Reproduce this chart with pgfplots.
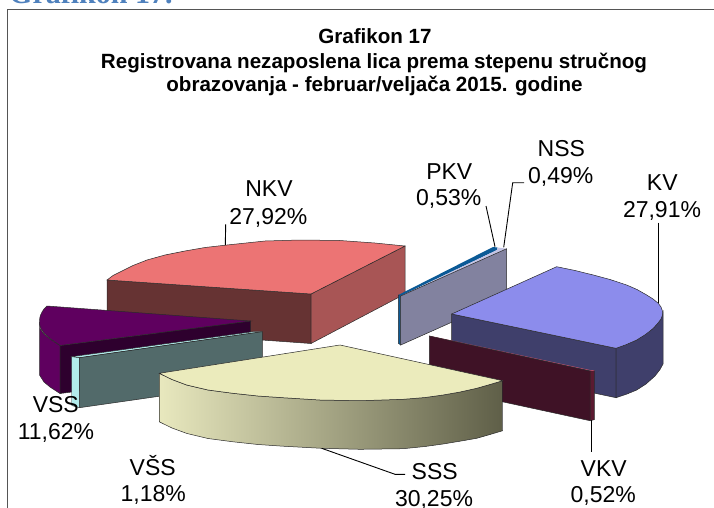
\documentclass[border=0pt]{standalone}
\usepackage{pgfplots}
\pgfplotsset{compat=1.18}
\usepackage{fontspec}
\setmainfont{Liberation Sans}
\newfontfamily\headfont{Liberation Serif}
\definecolor{edge}{HTML}{2A2A2A}
\definecolor{frame}{HTML}{555555}
\definecolor{nkvtop}{HTML}{EC7474}
\definecolor{nkvleft}{HTML}{663333}
\definecolor{nkvright}{HTML}{A85555}
\definecolor{psl}{HTML}{82829F}
\definecolor{pkvb}{HTML}{0B5A96}
\definecolor{nsstop}{HTML}{C4C4E4}
\definecolor{vsstop}{HTML}{5F005F}
\definecolor{vssdark}{HTML}{2E002E}
\definecolor{vsatop}{HTML}{B3ECEC}
\definecolor{vsaface}{HTML}{526A6A}
\definecolor{ssstop}{HTML}{EBEBBC}
\definecolor{sssl}{HTML}{E8E8BE}
\definecolor{sssm}{HTML}{B8B892}
\definecolor{sssr}{HTML}{5F5F48}
\definecolor{kvtop}{HTML}{8C8CEC}
\definecolor{kvdark}{HTML}{3F3F6B}
\definecolor{vkv}{HTML}{3F1226}
\definecolor{vkvtop}{HTML}{C0506A}
\definecolor{vkvside}{HTML}{5A1A30}
\definecolor{heading}{HTML}{4F81BD}
\newcommand{\lab}{\fontsize{23}{23}\selectfont}
\newcommand{\ttl}{\fontsize{20.6}{20.6}\selectfont\bfseries}
\begin{document}
\begin{tikzpicture}
\useasboundingbox (0,0) rectangle (714pt,508pt);
\clip (0,0) rectangle (714pt,508pt);
\begin{axis}[at={(0,0)},anchor=south west,scale only axis,width=714pt,height=508pt,
  xmin=0,xmax=714,ymin=0,ymax=508,y dir=reverse,hide axis,clip=false,no markers]
% frame
\addplot[frame,line width=1pt] coordinates {(7.5,508)(7.5,9.5)(714,9.5)};
% NKV
\addplot[draw=edge,line width=0.5pt,fill=nkvleft] coordinates {(107,280)(311,294)(311,343.5)(107,329)} --cycle;
\addplot[draw=edge,line width=0.5pt,fill=nkvright] coordinates {(311,294)(405,246)(405,294)(311,343.5)} --cycle;
\addplot[draw=edge,line width=0.5pt,fill=nkvtop] coordinates {(107,280)(113,275.5)(120,272)(133,265.5)(147,260)(165,255)(185,251)(205,247.5)(227,245)(265,241)(300,240)(340,240.5)(375,243)(405,246)(311,294)} --cycle;
% PKV / NSS
\addplot[draw=edge,line width=0.4pt,fill=pkvb] coordinates {(398.3,295)(400.7,296)(400.7,345)(398.3,343.3)} --cycle;
\addplot[draw=none,fill=pkvb] coordinates {(398.3,295)(493,247)(497.5,247.5)(497,250)(400.7,296)} --cycle;
\addplot[draw=none,fill=nsstop] coordinates {(400.7,296)(497,250)(497.5,247.5)(506.7,248.7)} --cycle;
\addplot[draw=edge,line width=0.5pt,fill=psl] coordinates {(400.7,296)(506.7,248.7)(506.7,297.7)(400.7,345)} --cycle;
% VSS
\addplot[draw=edge,line width=0.5pt,fill=vsstop] coordinates {(39.5,322)(39.5,328)(44,334)(50,339)(60,345.5)(60,393.5)(50,387)(44,382)(39.5,375)} --cycle;
\addplot[draw=edge,line width=0.5pt,fill=vssdark] coordinates {(60,345.5)(250.7,321)(250.7,369)(60,393.5)} --cycle;
\addplot[draw=edge,line width=0.5pt,fill=vsstop] coordinates {(47,306)(44,309)(42,312)(40.2,316)(39.5,320)(39.5,324)(40.5,328)(44,333)(50,338.5)(60,345.5)(250.7,321)} --cycle;
% VSA teal
\addplot[draw=edge,line width=0.4pt,fill=vsatop] coordinates {(71.7,356.7)(79.5,357.7)(262.3,331.7)(253.3,331.7)} --cycle;
\addplot[draw=edge,line width=0.4pt,fill=vsatop] coordinates {(71.7,356.7)(79.5,357.7)(79.5,407.7)(71.7,405.5)} --cycle;
\addplot[draw=edge,line width=0.5pt,fill=vsaface] coordinates {(79.5,357.7)(262.3,331.7)(262.3,381.5)(79.5,407.7)} --cycle;
% KV
\addplot[draw=edge,line width=0.5pt,fill=kvdark] coordinates {(451.7,314)(616,348.3)(616,397.7)(451.7,363)} --cycle;
\addplot[draw=edge,line width=0.5pt,fill=kvdark] coordinates {(616,348.3)(636.7,340)(653.3,328.3)(661,319)(663,312)(663,364)(660,369.5)(655,376)(646,384)(636.7,390)(626.5,394.2)(616,397.7)} --cycle;
\addplot[draw=edge,line width=0.5pt,fill=kvtop] coordinates {(556.7,266.7)(575,270.5)(593.3,275)(610,279.5)(626.7,285)(637,289.5)(646.7,295)(653,299)(658.3,303.3)(661,307)(662.7,311.7)(662.5,315)(661,319)(658,323)(653.3,328.3)(645.5,334.5)(636.7,340)(626.5,344.5)(616,348.3)(451.7,314)} --cycle;
% VKV
\addplot[draw=edge,line width=0.4pt,fill=vkvside] coordinates {(590,371)(594.3,370.7)(594.3,419.7)(590,420.7)} --cycle;
\addplot[draw=vkvtop,line width=0.6pt] coordinates {(429.3,336)(590,370.3)(594.3,370.7)};
\addplot[draw=edge,line width=0.5pt,fill=vkv] coordinates {(429.3,336)(590,371)(590,420.7)(429.3,386)} --cycle;
% SSS
\addplot[draw=edge,line width=0.5pt,left color=sssl,middle color=sssm,right color=sssr] coordinates {(159.3,373.3)(172,379.5)(186.7,385)(208,390)(233,393.3)(258,396)(283,397.7)(320,400)(360,400.7)(403,399.3)(425,397.5)(443,395)(460,392)(476.7,388.3)(490,384.5)(502.7,380.7)(502.7,430.7)(490,434.5)(476.7,438.3)(460,441.2)(443,444)(425,446.5)(403,448.7)(360,449.3)(321.7,448.3)(283,446.2)(258,444.5)(233,441.8)(208,438.5)(187,433.5)(172,428)(159.3,421.8)} --cycle;
\addplot[draw=edge,line width=0.5pt,fill=ssstop] coordinates {(340,345)(159.3,373.3)(172,379.5)(186.7,385)(208,390)(233,393.3)(258,396)(283,397.7)(320,400)(360,400.7)(403,399.3)(425,397.5)(443,395)(460,392)(476.7,388.3)(490,384.5)(502.7,380.7)} --cycle;
% leaders
\addplot[black,line width=0.9pt] coordinates {(225.7,224.3)(225.3,245)};
\addplot[black,line width=0.9pt] coordinates {(486,206)(495,246.7)};
\addplot[black,line width=0.9pt] coordinates {(524,182.7)(512.7,182.7)(503.7,247.3)};
\addplot[black,line width=0.9pt] coordinates {(658.7,222.7)(658.7,303.3)};
\addplot[black,line width=0.9pt] coordinates {(591.3,420)(591.3,451.7)};
\addplot[black,line width=0.9pt] coordinates {(321.7,448.3)(395,474.3)(405,474.3)};
% heading, clipped by the top of the picture
\node[anchor=base west,text=heading,inner sep=0pt,font=\headfont\fontsize{30}{30}\selectfont\bfseries] at (axis cs:9,3.5) {Grafikon 17.};
% title
\node[anchor=base,inner sep=0pt,font=\ttl] at (axis cs:375,44) {Grafikon 17};
\node[anchor=base,inner sep=0pt,font=\ttl] at (axis cs:374,68.3) {Registrovana nezaposlena lica prema stepenu stručnog};
\node[anchor=base,inner sep=0pt,font=\ttl] at (axis cs:374.5,91.7) {obrazovanja - februar/veljača 2015. godine};
% labels
\node[anchor=base,inner sep=0pt,font=\lab] at (axis cs:269,196.7) {NKV};
\node[anchor=base,inner sep=0pt,font=\lab] at (axis cs:268.3,224) {27,92\%};
\node[anchor=base,inner sep=0pt,font=\lab] at (axis cs:449.3,179.3) {PKV};
\node[anchor=base,inner sep=0pt,font=\lab] at (axis cs:448.7,205) {0,53\%};
\node[anchor=base,inner sep=0pt,font=\lab] at (axis cs:561.3,156) {NSS};
\node[anchor=base,inner sep=0pt,font=\lab] at (axis cs:560.7,183.3) {0,49\%};
\node[anchor=base,inner sep=0pt,font=\lab] at (axis cs:662.3,190.7) {KV};
\node[anchor=base,inner sep=0pt,font=\lab] at (axis cs:662,217.3) {27,91\%};
\node[anchor=base,inner sep=0pt,font=\lab] at (axis cs:603.7,476.7) {VKV};
\node[anchor=base,inner sep=0pt,font=\lab] at (axis cs:603.3,502.3) {0,52\%};
\node[anchor=base,inner sep=0pt,font=\lab] at (axis cs:434.7,479) {SSS};
\node[anchor=base,inner sep=0pt,font=\lab] at (axis cs:434,506.7) {30,25\%};
\node[anchor=base,inner sep=0pt,font=\lab] at (axis cs:55.8,412.3) {VSS};
\node[anchor=base,inner sep=0pt,font=\lab] at (axis cs:56,439) {11,62\%};
\node[anchor=base,inner sep=0pt,font=\lab] at (axis cs:152.7,475) {VŠS};
\node[anchor=base,inner sep=0pt,font=\lab] at (axis cs:153.3,501.7) {1,18\%};
\end{axis}
\end{tikzpicture}
\end{document}
